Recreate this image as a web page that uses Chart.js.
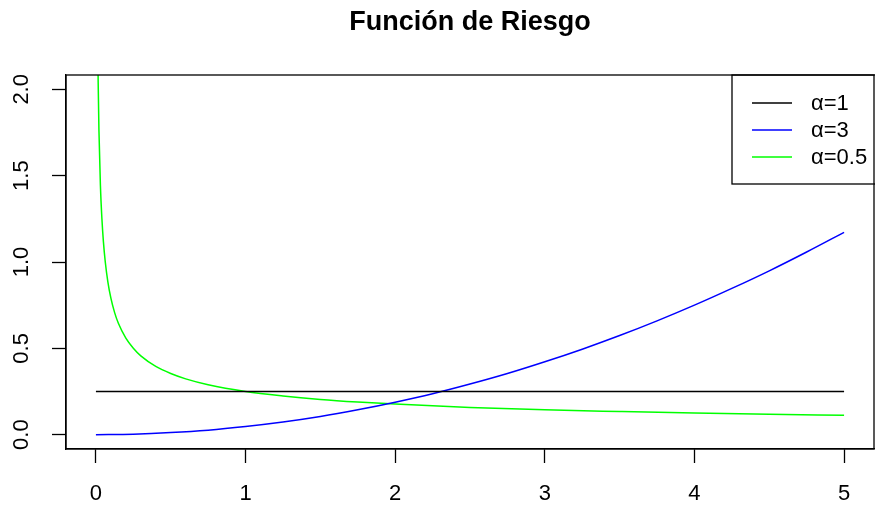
<!DOCTYPE html>
<html>
<head>
<meta charset="utf-8">
<script src="https://cdn.jsdelivr.net/npm/chart.js@4/dist/chart.umd.min.js"></script>
<style>
  html, body { margin: 0; padding: 0; background: #ffffff; }
  #wrap { width: 875px; height: 506px; }
</style>
</head>
<body>
<div id="wrap"><canvas id="c" width="875" height="506"></canvas></div>
<script>
// Weibull hazard curves, beta = 4
const chartTitle = 'Función de Riesgo';
const seriesLabels = ['α=1', 'α=3', 'α=0.5'];
const seriesColors = ['#000000', '#0000ff', '#00ff00'];

// alpha = 1 (constant hazard)
const tAlpha1 = [0, 5];
const hAlpha1 = [0.25, 0.25];

// alpha = 3 (increasing hazard)
const tAlpha3 = [0, 0.25, 0.5, 0.75, 1, 1.25, 1.5, 1.75, 2, 2.25, 2.5, 2.75, 3,
                 3.25, 3.5, 3.75, 4, 4.25, 4.5, 4.75, 5];
const hAlpha3 = [0, 0.003, 0.012, 0.026, 0.047, 0.073, 0.105, 0.144, 0.188, 0.237,
                 0.293, 0.354, 0.422, 0.495, 0.574, 0.659, 0.750, 0.847, 0.949, 1.058, 1.172];

// alpha = 0.5 (decreasing hazard)
const tAlpha05 = [0.01, 0.015, 0.02, 0.03, 0.04, 0.05, 0.0625, 0.08, 0.1, 0.125, 0.15,
                  0.2, 0.25, 0.3, 0.4, 0.5, 0.6, 0.75, 1, 1.25, 1.5, 1.75, 2, 2.5, 3,
                  3.5, 4, 4.5, 5];
const hAlpha05 = [2.50, 2.041, 1.768, 1.443, 1.25, 1.118, 1.0, 0.884, 0.791, 0.707, 0.645,
                  0.559, 0.5, 0.456, 0.395, 0.354, 0.323, 0.289, 0.25, 0.224, 0.204, 0.189,
                  0.177, 0.158, 0.144, 0.134, 0.125, 0.118, 0.112];

const xTicks = [0, 1, 2, 3, 4, 5];
const yTicks = [0, 0.5, 1, 1.5, 2];

const toPoints = (xs, ys) => xs.map((x, i) => ({ x: x, y: ys[i] }));

const FONT = '"Liberation Sans", Arial, Helvetica, sans-serif';

const whiteBg = {
  id: 'whiteBg',
  beforeDraw(chart) {
    const ctx = chart.ctx;
    ctx.save();
    ctx.fillStyle = '#ffffff';
    ctx.fillRect(0, 0, chart.width, chart.height);
    ctx.restore();
  }
};

// box around the plotting region, title and legend
const decorations = {
  id: 'decorations',
  afterDraw(chart) {
    const ctx = chart.ctx;
    const a = chart.chartArea;
    ctx.save();
    ctx.strokeStyle = '#000000';
    ctx.lineWidth = 1.3;
    ctx.strokeRect(a.left, a.top, a.right - a.left, a.bottom - a.top);

    // title centred over the plot region
    ctx.fillStyle = '#000000';
    ctx.font = 'bold 27px ' + FONT;
    ctx.textAlign = 'center';
    ctx.textBaseline = 'alphabetic';
    ctx.fillText(chartTitle, (a.left + a.right) / 2, 30);

    // legend in the top-right corner
    const boxLeft = 732, boxTop = a.top, boxBottom = 184;
    ctx.lineWidth = 1.3;
    ctx.strokeRect(boxLeft, boxTop, 200, boxBottom - boxTop);
    ctx.font = '22px ' + FONT;
    ctx.textAlign = 'left';
    ctx.textBaseline = 'middle';
    chart.data.datasets.forEach((ds, i) => {
      const y = 103 + i * 27;
      ctx.strokeStyle = ds.borderColor;
      ctx.lineWidth = 1.5;
      ctx.beginPath();
      ctx.moveTo(752, y);
      ctx.lineTo(792, y);
      ctx.stroke();
      ctx.fillStyle = '#000000';
      ctx.fillText(ds.label, 811, y + 1);
    });
    ctx.restore();
  }
};

new Chart(document.getElementById('c'), {
  type: 'scatter',
  data: {
    datasets: [
      { label: seriesLabels[0], data: toPoints(tAlpha1, hAlpha1), borderColor: seriesColors[0] },
      { label: seriesLabels[1], data: toPoints(tAlpha3, hAlpha3), borderColor: seriesColors[1] },
      { label: seriesLabels[2], data: toPoints(tAlpha05, hAlpha05), borderColor: seriesColors[2] }
    ].map(d => Object.assign(d, {
      showLine: true,
      pointRadius: 0,
      borderWidth: 1.5,
      fill: false,
      cubicInterpolationMode: 'monotone',
      backgroundColor: d.borderColor
    }))
  },
  options: {
    responsive: false,
    animation: false,
    layout: { padding: { top: 75, right: 1, left: 0, bottom: 0 } },
    plugins: {
      legend: { display: false },
      title: { display: false },
      tooltip: { enabled: false }
    },
    scales: {
      x: {
        type: 'linear',
        min: -0.2,
        max: 5.2,
        afterBuildTicks: s => { s.ticks = xTicks.map(v => ({ value: v })); },
        afterFit: s => { s.height = 57; },
        grid: { drawOnChartArea: false, drawTicks: true, tickLength: 14, tickColor: '#000000', tickWidth: 1.3 },
        border: { display: true, color: '#000000', width: 1.3 },
        ticks: {
          color: '#000000',
          font: { family: FONT, size: 22 },
          padding: 18,
          maxRotation: 0,
          callback: v => String(v)
        }
      },
      y: {
        type: 'linear',
        min: -0.083,
        max: 2.083,
        afterBuildTicks: s => { s.ticks = yTicks.map(v => ({ value: v })); },
        afterFit: s => { s.width = 66; },
        grid: { drawOnChartArea: false, drawTicks: true, tickLength: 14, tickColor: '#000000', tickWidth: 1.3 },
        border: { display: true, color: '#000000', width: 1.3 },
        ticks: {
          color: '#000000',
          font: { family: FONT, size: 22 },
          padding: 15,
          minRotation: 90,
          maxRotation: 90,
          crossAlign: 'center',
          callback: v => Number(v).toFixed(1)
        }
      }
    }
  },
  plugins: [whiteBg, decorations]
});
</script>
</body>
</html>
